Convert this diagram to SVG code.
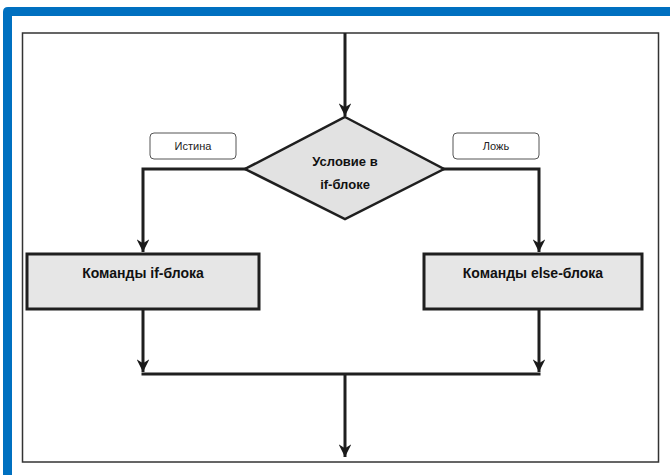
<svg xmlns="http://www.w3.org/2000/svg" width="670" height="475" viewBox="0 0 670 475">
  <defs>
    <marker id="arr" viewBox="0 0 10 10" refX="10" refY="5" markerWidth="4.2" markerHeight="4.2" markerUnits="strokeWidth" orient="auto">
      <path d="M0,0 L10,5 L0,10 L3,5 Z" fill="#1a1a1a"/>
    </marker>
    <style>
      .conn{fill:none;stroke:#1f1f1f;stroke-width:3;}
      .box{fill:#e6e6e6;stroke:#1f1f1f;stroke-width:3;}
      .lbl{fill:#ffffff;stroke:#555;stroke-width:1;}
      .bt{font-family:"Liberation Sans",Arial,sans-serif;font-weight:bold;font-size:13px;fill:#111;text-anchor:middle;}
      .bb{font-size:14px;}
      .lt{font-family:"Liberation Sans",Arial,sans-serif;font-size:11px;fill:#222;text-anchor:middle;}
    </style>
  </defs>
  <rect x="0" y="0" width="670" height="475" fill="#ffffff"/>
  <!-- blue frame -->
  <path d="M3,475 L3,12 Q3,7 8,7 L670,7 L670,16 L12,16 L12,475 Z" fill="#0070c0"/>
  <!-- inner frame -->
  <rect x="22.5" y="33" width="636" height="429" fill="none" stroke="#333" stroke-width="1.5"/>

  <g id="connectors">
    <line class="conn" x1="345" y1="33" x2="345" y2="116" marker-end="url(#arr)"/>
    <polyline class="conn" points="246,169 143,169 143,252" marker-end="url(#arr)"/>
    <polyline class="conn" points="443,169 539,169 539,252" marker-end="url(#arr)"/>
    <line class="conn" x1="143" y1="309" x2="143" y2="372" marker-end="url(#arr)"/>
    <line class="conn" x1="539" y1="309" x2="539" y2="372" marker-end="url(#arr)"/>
    <line class="conn" x1="141.5" y1="374" x2="540.5" y2="374"/>
    <line class="conn" x1="345" y1="374" x2="345" y2="457" marker-end="url(#arr)"/>
  </g>

  <g id="cond">
    <polygon points="345,117 444,169 345,219 245,169" fill="#e2e2e2" stroke="#1f1f1f" stroke-width="2.5"/>
    <text class="bt" x="345" y="166">Условие в</text>
    <text class="bt" x="345" y="189">if-блоке</text>
  </g>

  <g id="label-true">
    <rect class="lbl" x="150" y="133" width="86" height="26" rx="4"/>
    <text class="lt" x="193" y="150">Истина</text>
  </g>

  <g id="label-false">
    <rect class="lbl" x="453" y="133" width="86" height="26" rx="4"/>
    <text class="lt" x="496" y="150">Ложь</text>
  </g>

  <g id="if-block">
    <rect class="box" x="27" y="254" width="232" height="55"/>
    <text class="bt bb" x="143" y="278">Команды if-блока</text>
  </g>

  <g id="else-block">
    <rect class="box" x="424" y="254" width="218" height="55"/>
    <text class="bt bb" x="533" y="278">Команды else-блока</text>
  </g>
</svg>
